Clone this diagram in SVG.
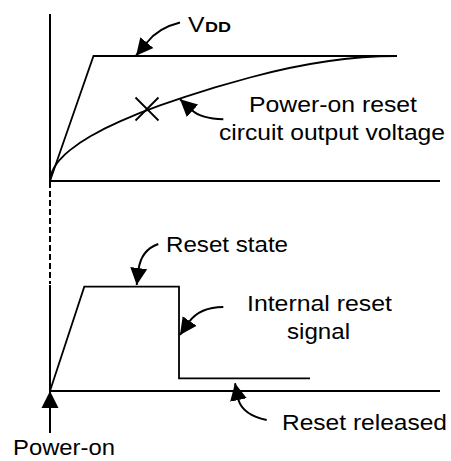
<svg xmlns="http://www.w3.org/2000/svg" width="451" height="461" viewBox="0 0 451 461">
<style>
.ax{fill:none;stroke:#000;stroke-width:2}
.sig{fill:none;stroke:#000;stroke-width:1.8;stroke-linejoin:miter}
.ar{fill:none;stroke:#000;stroke-width:2}
.t{font-family:"Liberation Sans",Arial,sans-serif;font-size:22px;fill:#000}
</style>
<defs>
<marker id="ah" markerUnits="userSpaceOnUse" markerWidth="18" markerHeight="18" refX="17" refY="8.5" orient="auto" viewBox="0 0 18 17">
<path d="M0,0 L17,8.5 L0,17 z" fill="#000"/>
</marker>
</defs>
<rect width="451" height="461" fill="#fff"/>
<g id="axes">
<path class="ax" d="M50,14 V181 H440"/>
<path class="ax" d="M50,182 V284" stroke-dasharray="6,3"/>
<path class="ax" d="M50,285 V391 H440"/>
</g>
<g id="vdd">
<path class="sig" d="M50,181 L93.5,56 H397"/>
</g>
<g id="por-output">
<path class="sig" d="M50,181 L51,174.6 L52,171.8 L54,167.7 L57,163.2 L60,159.5 L65,154.4 L70,150.1 L80,142.8 L90,136.5 L105,128.4 L120,121.4 L140,112.9 L160,105.4 L185,96.8 L215,87.4 L250,77.5 Q329,56 397,56"/>
<path class="sig" d="M135.5,97.5 L158.5,120.5 M158.5,97.5 L135.5,120.5"/>
</g>
<g id="reset-signal">
<path class="sig" d="M50,391 L84.3,286.7 H179 V378.3 H310"/>
</g>
<g id="connectors">
<path class="ar" d="M180,22.5 Q158,28 147,42.5 L136,55.7" marker-end="url(#ah)"/>
<path class="ar" d="M223.3,119.3 Q201,118.5 191.7,110 L180,99.3" marker-end="url(#ah)"/>
<path class="ar" d="M158.3,244 Q141,250 138.5,270 L136.7,285" marker-end="url(#ah)"/>
<path class="ar" d="M223.3,307 Q200,307 189,322 L180,335" marker-end="url(#ah)"/>
<path class="ar" d="M266.7,420 Q243,415 238.5,400 L235,383.3" marker-end="url(#ah)"/>
<path class="ar" d="M50,433 L50,391" marker-end="url(#ah)"/>
</g>
<g id="labels">
<text class="t" x="188" y="32.3" textLength="16.5" lengthAdjust="spacingAndGlyphs">V</text>
<text class="t" x="205" y="32.3" style="font-size:14px;font-weight:bold" textLength="26" lengthAdjust="spacingAndGlyphs">DD</text>
<text class="t" x="249" y="112" textLength="168" lengthAdjust="spacingAndGlyphs">Power-on reset</text>
<text class="t" x="219" y="140" textLength="226" lengthAdjust="spacingAndGlyphs">circuit output voltage</text>
<text class="t" x="166" y="252" textLength="122" lengthAdjust="spacingAndGlyphs">Reset state</text>
<text class="t" x="247" y="311" textLength="145" lengthAdjust="spacingAndGlyphs">Internal reset</text>
<text class="t" x="287" y="338.5" textLength="63" lengthAdjust="spacingAndGlyphs">signal</text>
<text class="t" x="282" y="430" textLength="165" lengthAdjust="spacingAndGlyphs">Reset released</text>
<text class="t" x="13" y="455" textLength="102" lengthAdjust="spacingAndGlyphs">Power-on</text>
</g>
</svg>
